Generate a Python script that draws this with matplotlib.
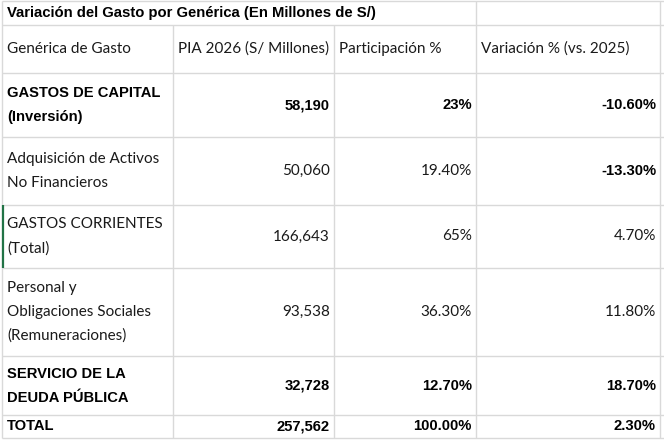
import matplotlib
matplotlib.use('Agg')
import matplotlib.pyplot as plt

# Table content
title = "Variación del Gasto por Genérica (En Millones de S/)"
headers = ["Genérica de Gasto", "PIA 2026 (S/ Millones)", "Participación %", "Variación % (vs. 2025)"]
categories = [
    "GASTOS DE CAPITAL\n(Inversión)",
    "Adquisición de Activos\nNo Financieros",
    "GASTOS CORRIENTES\n(Total)",
    "Personal y\nObligaciones Sociales\n(Remuneraciones)",
    "SERVICIO DE LA\nDEUDA PÚBLICA",
    "TOTAL",
]
pia_2026 = ["58,190", "50,060", "166,643", "93,538", "32,728", "257,562"]
participacion = ["23%", "19.40%", "65%", "36.30%", "12.70%", "100.00%"]
variacion = ["-10.60%", "-13.30%", "4.70%", "11.80%", "18.70%", "2.30%"]
bold_rows = [True, False, False, False, True, True]
bold_var = [True, True, False, False, True, True]

# Sheet layout in pixels
W, H = 664, 440
col_edges = [2, 173, 334, 476, 660]
row_edges = [1, 25, 73, 137, 205, 268, 356, 415, 438]
grid_color = '#d9d9d9'
text_color = '#1a1a1a'
normal_font = ['Lato', 'DejaVu Sans']
bold_font = ['Liberation Sans', 'DejaVu Sans']
fs_normal = 11.0
fs_bold = 10.6
line_px = 24

fig = plt.figure(figsize=(W / 100, H / 100), dpi=100)
ax = fig.add_axes([0, 0, 1, 1])
ax.set_xlim(0, W)
ax.set_ylim(H, 0)
ax.axis('off')

# grid lines
for y in row_edges:
    ax.hlines(y, col_edges[0], W, color=grid_color, lw=1)
for i, x in enumerate(col_edges):
    top = row_edges[0] if x in (col_edges[0], col_edges[3], col_edges[4]) else row_edges[1]
    ax.vlines(x, top, row_edges[-1], color=grid_color, lw=1)

# green selection edge on GASTOS CORRIENTES row
ax.vlines(3, row_edges[4], row_edges[5], color='#217346', lw=1.6)


def cell_text(x, yc, s, bold, ha='left', size=None):
    lines = s.split('\n')
    n = len(lines)
    if size is None:
        size = fs_bold if bold else fs_normal
    for k, ln in enumerate(lines):
        y = yc + (k - (n - 1) / 2) * line_px
        ax.text(x, y, ln, ha=ha, va='center', color='black' if bold else text_color,
                family=bold_font if bold else normal_font,
                fontweight='bold' if bold else 'normal',
                fontsize=size)


# title
cell_text(7, (row_edges[0] + row_edges[1]) / 2, title, True, size=10.7)

# header
hy = (row_edges[1] + row_edges[2]) / 2
for j, h in enumerate(headers):
    cell_text(col_edges[j] + 5, hy, h, False)

# body rows
for i, cat in enumerate(categories):
    yc = (row_edges[i + 2] + row_edges[i + 3]) / 2
    cell_text(7, yc, cat, bold_rows[i])
    cell_text(col_edges[2] - 4, yc, pia_2026[i], bold_rows[i], ha='right')
    cell_text(col_edges[3] - 4, yc, participacion[i], bold_rows[i], ha='right')
    cell_text(col_edges[4] - 4, yc, variacion[i], bold_var[i], ha='right')

fig.savefig('out.png', dpi=100, facecolor='white')
